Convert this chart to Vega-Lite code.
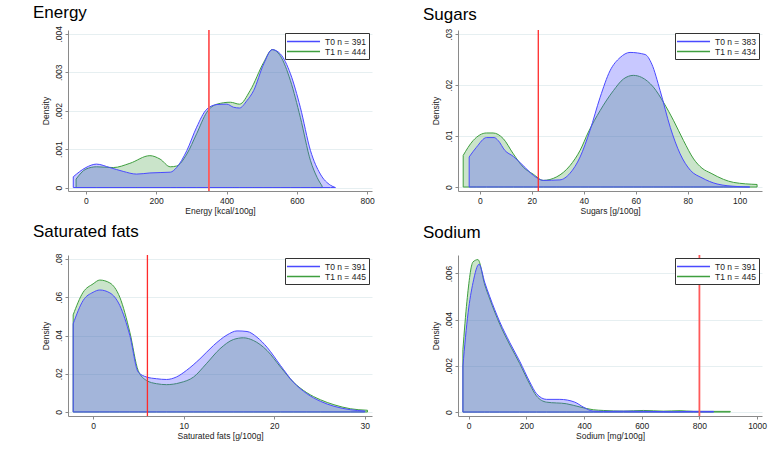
{
  "$schema": "https://vega.github.io/schema/vega-lite/v6.json",
  "background": "white",
  "padding": {"left": 33, "top": 3, "right": 5, "bottom": 5},
  "config": {
    "font": "Liberation Sans",
    "view": {"stroke": null},
    "axis": {"labelFont": "Liberation Sans", "labelFontSize": 8.5, "labelColor": "#222222", "titleFont": "Liberation Sans", "titleFontSize": 8.5, "titleFontWeight": "normal", "titleColor": "#222222", "domainColor": "#8a8a8a", "tickColor": "#8a8a8a", "tickSize": 3, "gridColor": "#e6eff1", "labelPadding": 2},
    "axisX": {"grid": false, "titlePadding": 2},
    "axisY": {"grid": true, "labelAngle": 270, "titlePadding": 4},
    "legend": {"orient": "top-right", "offset": 3, "strokeColor": "#333333", "fillColor": "white", "padding": 3, "title": null, "symbolType": "M-3.67,0H3.67", "symbolSize": 81, "symbolStrokeWidth": 1.5, "symbolOffset": 10, "labelFont": "Liberation Sans", "labelFontSize": 8.5, "labelColor": "#222222", "rowPadding": 0, "labelOffset": 16, "cornerRadius": 0},
    "title": {"anchor": "start", "frame": "group", "fontSize": 17, "fontWeight": "normal", "font": "Liberation Sans", "color": "#000000", "baseline": "alphabetic", "dx": -35}
  },
  "resolve": {"scale": {"stroke": "independent", "x": "independent", "y": "independent"}, "legend": {"stroke": "independent"}},
  "datasets": {
    "energy": [
      {"x": -36, "d": 0.00028, "g": "T0 n = 391"}, {"x": 0, "d": 0.00052, "g": "T0 n = 391"}, {"x": 30, "d": 0.00061, "g": "T0 n = 391"}, {"x": 68, "d": 0.00052, "g": "T0 n = 391"}, {"x": 106, "d": 0.00042, "g": "T0 n = 391"}, {"x": 144, "d": 0.00035, "g": "T0 n = 391"}, {"x": 182, "d": 0.00038, "g": "T0 n = 391"}, {"x": 240, "d": 0.0004, "g": "T0 n = 391"}, {"x": 258, "d": 0.00052, "g": "T0 n = 391"}, {"x": 287, "d": 0.00096, "g": "T0 n = 391"}, {"x": 315, "d": 0.00157, "g": "T0 n = 391"}, {"x": 344, "d": 0.00204, "g": "T0 n = 391"}, {"x": 373, "d": 0.00216, "g": "T0 n = 391"}, {"x": 401, "d": 0.00217, "g": "T0 n = 391"}, {"x": 420, "d": 0.00209, "g": "T0 n = 391"}, {"x": 437, "d": 0.00207, "g": "T0 n = 391"}, {"x": 458, "d": 0.00226, "g": "T0 n = 391"}, {"x": 477, "d": 0.00252, "g": "T0 n = 391"}, {"x": 506, "d": 0.00322, "g": "T0 n = 391"}, {"x": 530, "d": 0.00359, "g": "T0 n = 391"}, {"x": 553, "d": 0.00348, "g": "T0 n = 391"}, {"x": 582, "d": 0.00296, "g": "T0 n = 391"}, {"x": 610, "d": 0.00209, "g": "T0 n = 391"}, {"x": 639, "d": 0.00096, "g": "T0 n = 391"}, {"x": 667, "d": 0.00035, "g": "T0 n = 391"}, {"x": 696, "d": 0.00006, "g": "T0 n = 391"}, {"x": 710, "d": 0, "g": "T0 n = 391"},
      {"x": -28, "d": 0.00022, "g": "T1 n = 444"}, {"x": 0, "d": 0.00048, "g": "T1 n = 444"}, {"x": 30, "d": 0.00054, "g": "T1 n = 444"}, {"x": 78, "d": 0.00052, "g": "T1 n = 444"}, {"x": 125, "d": 0.00063, "g": "T1 n = 444"}, {"x": 182, "d": 0.00083, "g": "T1 n = 444"}, {"x": 211, "d": 0.00074, "g": "T1 n = 444"}, {"x": 240, "d": 0.00054, "g": "T1 n = 444"}, {"x": 258, "d": 0.00056, "g": "T1 n = 444"}, {"x": 287, "d": 0.00087, "g": "T1 n = 444"}, {"x": 315, "d": 0.0014, "g": "T1 n = 444"}, {"x": 344, "d": 0.00196, "g": "T1 n = 444"}, {"x": 373, "d": 0.00217, "g": "T1 n = 444"}, {"x": 411, "d": 0.00222, "g": "T1 n = 444"}, {"x": 437, "d": 0.00217, "g": "T1 n = 444"}, {"x": 467, "d": 0.00252, "g": "T1 n = 444"}, {"x": 506, "d": 0.00326, "g": "T1 n = 444"}, {"x": 530, "d": 0.00359, "g": "T1 n = 444"}, {"x": 553, "d": 0.00343, "g": "T1 n = 444"}, {"x": 582, "d": 0.00278, "g": "T1 n = 444"}, {"x": 610, "d": 0.00183, "g": "T1 n = 444"}, {"x": 639, "d": 0.0007, "g": "T1 n = 444"}, {"x": 658, "d": 0.00026, "g": "T1 n = 444"}, {"x": 672, "d": 0.00004, "g": "T1 n = 444"}
    ],
    "sugars": [
      {"x": -4.1, "d": 0.0059, "g": "T0 n = 383"}, {"x": -1.3, "d": 0.0078, "g": "T0 n = 383"}, {"x": 2.6, "d": 0.0097, "g": "T0 n = 383"}, {"x": 5.5, "d": 0.0097, "g": "T0 n = 383"}, {"x": 7.1, "d": 0.0091, "g": "T0 n = 383"}, {"x": 9.6, "d": 0.0072, "g": "T0 n = 383"}, {"x": 12.9, "d": 0.006, "g": "T0 n = 383"}, {"x": 16.7, "d": 0.0042, "g": "T0 n = 383"}, {"x": 20.6, "d": 0.0023, "g": "T0 n = 383"}, {"x": 24.4, "d": 0.0013, "g": "T0 n = 383"}, {"x": 30.8, "d": 0.0014, "g": "T0 n = 383"}, {"x": 34.7, "d": 0.0027, "g": "T0 n = 383"}, {"x": 38.6, "d": 0.0059, "g": "T0 n = 383"}, {"x": 42.4, "d": 0.0111, "g": "T0 n = 383"}, {"x": 46.3, "d": 0.0176, "g": "T0 n = 383"}, {"x": 50.1, "d": 0.0228, "g": "T0 n = 383"}, {"x": 54, "d": 0.0254, "g": "T0 n = 383"}, {"x": 57.8, "d": 0.0264, "g": "T0 n = 383"}, {"x": 63.6, "d": 0.026, "g": "T0 n = 383"}, {"x": 66.2, "d": 0.0241, "g": "T0 n = 383"}, {"x": 69.4, "d": 0.0189, "g": "T0 n = 383"}, {"x": 73.3, "d": 0.0117, "g": "T0 n = 383"}, {"x": 77.1, "d": 0.0065, "g": "T0 n = 383"}, {"x": 81, "d": 0.0033, "g": "T0 n = 383"}, {"x": 85.5, "d": 0.0018, "g": "T0 n = 383"}, {"x": 91.3, "d": 0.0006, "g": "T0 n = 383"}, {"x": 99, "d": 0.0001, "g": "T0 n = 383"}, {"x": 103.9, "d": 0, "g": "T0 n = 383"},
      {"x": -6.4, "d": 0.0062, "g": "T1 n = 434"}, {"x": -2.6, "d": 0.0091, "g": "T1 n = 434"}, {"x": 2.6, "d": 0.0106, "g": "T1 n = 434"}, {"x": 5.1, "d": 0.0106, "g": "T1 n = 434"}, {"x": 9, "d": 0.0095, "g": "T1 n = 434"}, {"x": 12.9, "d": 0.0065, "g": "T1 n = 434"}, {"x": 16.7, "d": 0.0039, "g": "T1 n = 434"}, {"x": 20.6, "d": 0.0025, "g": "T1 n = 434"}, {"x": 24.4, "d": 0.0013, "g": "T1 n = 434"}, {"x": 29.6, "d": 0.002, "g": "T1 n = 434"}, {"x": 34.7, "d": 0.0042, "g": "T1 n = 434"}, {"x": 38.6, "d": 0.0072, "g": "T1 n = 434"}, {"x": 41.8, "d": 0.0108, "g": "T1 n = 434"}, {"x": 46.3, "d": 0.015, "g": "T1 n = 434"}, {"x": 51.4, "d": 0.0189, "g": "T1 n = 434"}, {"x": 55.3, "d": 0.0212, "g": "T1 n = 434"}, {"x": 59.1, "d": 0.0219, "g": "T1 n = 434"}, {"x": 62.3, "d": 0.0215, "g": "T1 n = 434"}, {"x": 66.8, "d": 0.0196, "g": "T1 n = 434"}, {"x": 70.7, "d": 0.0166, "g": "T1 n = 434"}, {"x": 74.6, "d": 0.013, "g": "T1 n = 434"}, {"x": 78.4, "d": 0.0091, "g": "T1 n = 434"}, {"x": 82.3, "d": 0.0055, "g": "T1 n = 434"}, {"x": 85.5, "d": 0.0037, "g": "T1 n = 434"}, {"x": 89, "d": 0.0027, "g": "T1 n = 434"}, {"x": 93.8, "d": 0.0015, "g": "T1 n = 434"}, {"x": 97.7, "d": 0.0009, "g": "T1 n = 434"}, {"x": 106.7, "d": 0.0005, "g": "T1 n = 434"}
    ],
    "satfat": [
      {"x": -2.2, "d": 0.0461, "g": "T0 n = 391"}, {"x": -1.1, "d": 0.0583, "g": "T0 n = 391"}, {"x": 0, "d": 0.0626, "g": "T0 n = 391"}, {"x": 0.74, "d": 0.0638, "g": "T0 n = 391"}, {"x": 1.85, "d": 0.0623, "g": "T0 n = 391"}, {"x": 2.95, "d": 0.0557, "g": "T0 n = 391"}, {"x": 4.06, "d": 0.04, "g": "T0 n = 391"}, {"x": 4.98, "d": 0.0209, "g": "T0 n = 391"}, {"x": 5.9, "d": 0.0183, "g": "T0 n = 391"}, {"x": 7.0, "d": 0.0174, "g": "T0 n = 391"}, {"x": 8.1, "d": 0.017, "g": "T0 n = 391"}, {"x": 9.2, "d": 0.0183, "g": "T0 n = 391"}, {"x": 10.3, "d": 0.0217, "g": "T0 n = 391"}, {"x": 11.8, "d": 0.0278, "g": "T0 n = 391"}, {"x": 13.3, "d": 0.0348, "g": "T0 n = 391"}, {"x": 14.8, "d": 0.0403, "g": "T0 n = 391"}, {"x": 15.9, "d": 0.0424, "g": "T0 n = 391"}, {"x": 17.0, "d": 0.0421, "g": "T0 n = 391"}, {"x": 18.1, "d": 0.0391, "g": "T0 n = 391"}, {"x": 19.2, "d": 0.0339, "g": "T0 n = 391"}, {"x": 20.7, "d": 0.0243, "g": "T0 n = 391"}, {"x": 22.1, "d": 0.0157, "g": "T0 n = 391"}, {"x": 23.6, "d": 0.0096, "g": "T0 n = 391"}, {"x": 25.1, "d": 0.0056, "g": "T0 n = 391"}, {"x": 26.6, "d": 0.003, "g": "T0 n = 391"}, {"x": 28.4, "d": 0.0012, "g": "T0 n = 391"}, {"x": 30, "d": 0.0005, "g": "T0 n = 391"},
      {"x": -2.2, "d": 0.0508, "g": "T1 n = 445"}, {"x": -1.1, "d": 0.0626, "g": "T1 n = 445"}, {"x": 0, "d": 0.067, "g": "T1 n = 445"}, {"x": 0.74, "d": 0.069, "g": "T1 n = 445"}, {"x": 1.85, "d": 0.0675, "g": "T1 n = 445"}, {"x": 2.95, "d": 0.06, "g": "T1 n = 445"}, {"x": 4.06, "d": 0.0417, "g": "T1 n = 445"}, {"x": 4.98, "d": 0.0217, "g": "T1 n = 445"}, {"x": 5.9, "d": 0.0165, "g": "T1 n = 445"}, {"x": 7.0, "d": 0.0148, "g": "T1 n = 445"}, {"x": 8.1, "d": 0.0143, "g": "T1 n = 445"}, {"x": 9.6, "d": 0.0153, "g": "T1 n = 445"}, {"x": 11.1, "d": 0.0183, "g": "T1 n = 445"}, {"x": 12.5, "d": 0.0252, "g": "T1 n = 445"}, {"x": 14.0, "d": 0.033, "g": "T1 n = 445"}, {"x": 15.5, "d": 0.0379, "g": "T1 n = 445"}, {"x": 16.6, "d": 0.0388, "g": "T1 n = 445"}, {"x": 17.7, "d": 0.0374, "g": "T1 n = 445"}, {"x": 19.2, "d": 0.0322, "g": "T1 n = 445"}, {"x": 20.7, "d": 0.0235, "g": "T1 n = 445"}, {"x": 22.1, "d": 0.0157, "g": "T1 n = 445"}, {"x": 23.6, "d": 0.0101, "g": "T1 n = 445"}, {"x": 25.1, "d": 0.0064, "g": "T1 n = 445"}, {"x": 26.6, "d": 0.0038, "g": "T1 n = 445"}, {"x": 28.4, "d": 0.0017, "g": "T1 n = 445"}, {"x": 30.3, "d": 0.0009, "g": "T1 n = 445"}
    ],
    "sodium": [
      {"x": -20, "d": 0.002, "g": "T0 n = 391"}, {"x": -2, "d": 0.0043, "g": "T0 n = 391"}, {"x": 15, "d": 0.0056, "g": "T0 n = 391"}, {"x": 36, "d": 0.0064, "g": "T0 n = 391"}, {"x": 56, "d": 0.0056, "g": "T0 n = 391"}, {"x": 73, "d": 0.005, "g": "T0 n = 391"}, {"x": 108, "d": 0.0039, "g": "T0 n = 391"}, {"x": 143, "d": 0.003, "g": "T0 n = 391"}, {"x": 177, "d": 0.0022, "g": "T0 n = 391"}, {"x": 212, "d": 0.0013, "g": "T0 n = 391"}, {"x": 235, "d": 0.0008, "g": "T0 n = 391"}, {"x": 270, "d": 0.00055, "g": "T0 n = 391"}, {"x": 316, "d": 0.00055, "g": "T0 n = 391"}, {"x": 368, "d": 0.00043, "g": "T0 n = 391"}, {"x": 397, "d": 0.00022, "g": "T0 n = 391"}, {"x": 432, "d": 0.00004, "g": "T0 n = 391"}, {"x": 467, "d": 0.00003, "g": "T0 n = 391"}, {"x": 537, "d": 0.00004, "g": "T0 n = 391"}, {"x": 629, "d": 0.00003, "g": "T0 n = 391"}, {"x": 710, "d": 0.00001, "g": "T0 n = 391"}, {"x": 768, "d": 0.00003, "g": "T0 n = 391"}, {"x": 849, "d": 0.00003, "g": "T0 n = 391"},
      {"x": -20, "d": 0.0027, "g": "T1 n = 445"}, {"x": -6, "d": 0.0048, "g": "T1 n = 445"}, {"x": 15, "d": 0.0065, "g": "T1 n = 445"}, {"x": 32, "d": 0.0066, "g": "T1 n = 445"}, {"x": 56, "d": 0.0055, "g": "T1 n = 445"}, {"x": 73, "d": 0.0049, "g": "T1 n = 445"}, {"x": 108, "d": 0.0038, "g": "T1 n = 445"}, {"x": 143, "d": 0.0029, "g": "T1 n = 445"}, {"x": 177, "d": 0.0021, "g": "T1 n = 445"}, {"x": 212, "d": 0.0012, "g": "T1 n = 445"}, {"x": 235, "d": 0.0007, "g": "T1 n = 445"}, {"x": 270, "d": 0.00043, "g": "T1 n = 445"}, {"x": 339, "d": 0.00036, "g": "T1 n = 445"}, {"x": 386, "d": 0.00022, "g": "T1 n = 445"}, {"x": 432, "d": 0.0001, "g": "T1 n = 445"}, {"x": 467, "d": 0.00007, "g": "T1 n = 445"}, {"x": 537, "d": 0.00004, "g": "T1 n = 445"}, {"x": 606, "d": 0.00007, "g": "T1 n = 445"}, {"x": 675, "d": 0.00004, "g": "T1 n = 445"}, {"x": 733, "d": 0.00006, "g": "T1 n = 445"}, {"x": 780, "d": 0.00003, "g": "T1 n = 445"}, {"x": 907, "d": 0.00003, "g": "T1 n = 445"}
    ]
  },
  "columns": 2,
  "spacing": {"row": 64, "column": 86},
  "bounds": "flush",
  "concat": [
    {
      "width": 304, "height": 161,
      "title": {"text": "Energy", "offset": 4},
      "data": {"name": "energy"},
      "encoding": {
        "x": {"field": "x", "type": "quantitative", "scale": {"domain": [-51, 814], "nice": false, "zero": false}, "axis": {"values": [0, 200, 400, 600, 800], "title": "Energy [kcal/100g]", "format": "d"}},
        "y": {"field": "d", "type": "quantitative", "stack": null, "scale": {"domain": [-0.00009, 0.0041], "nice": false, "zero": false}, "axis": {"values": [0, 0.001, 0.002, 0.003, 0.004], "title": "Density", "labelExpr": "datum.value == 0 ? '0' : replace(format(datum.value, '.3f'), '0.', '.')"}},
        "stroke": {"field": "g", "type": "nominal", "scale": {"domain": ["T0 n = 391", "T1 n = 444"], "range": ["#4a4aff", "#3f9f3f"]}}
      },
      "layer": [
        {"transform": [{"filter": "datum.g == 'T1 n = 444'"}], "mark": {"type": "area", "fill": "#3f9f3f", "fillOpacity": 0.28, "strokeWidth": 1, "interpolate": "monotone"}},
        {"transform": [{"filter": "datum.g == 'T0 n = 391'"}], "mark": {"type": "area", "fill": "#4a4aff", "fillOpacity": 0.3, "strokeWidth": 1, "interpolate": "monotone"}},
        {"data": {"values": [{"cut": 350}]}, "mark": {"type": "rule", "color": "#ff5a5a", "strokeWidth": 1.8}, "encoding": {"x": {"field": "cut", "type": "quantitative"}, "y": null, "stroke": null}}
      ]
    },
    {
      "width": 304, "height": 161,
      "title": {"text": "Sugars", "offset": 4},
      "data": {"name": "sugars"},
      "encoding": {
        "x": {"field": "x", "type": "quantitative", "scale": {"domain": [-8.4, 108.6], "nice": false, "zero": false}, "axis": {"values": [0, 20, 40, 60, 80, 100], "title": "Sugars [g/100g]", "format": "d"}},
        "y": {"field": "d", "type": "quantitative", "stack": null, "scale": {"domain": [-0.00078, 0.0308], "nice": false, "zero": false}, "axis": {"values": [0, 0.01, 0.02, 0.03], "title": "Density", "labelExpr": "datum.value == 0 ? '0' : replace(format(datum.value, '.2f'), '0.', '.')"}},
        "stroke": {"field": "g", "type": "nominal", "scale": {"domain": ["T0 n = 383", "T1 n = 434"], "range": ["#4a4aff", "#3f9f3f"]}}
      },
      "layer": [
        {"transform": [{"filter": "datum.g == 'T1 n = 434'"}], "mark": {"type": "area", "fill": "#3f9f3f", "fillOpacity": 0.28, "strokeWidth": 1, "interpolate": "monotone"}},
        {"transform": [{"filter": "datum.g == 'T0 n = 383'"}], "mark": {"type": "area", "fill": "#4a4aff", "fillOpacity": 0.3, "strokeWidth": 1, "interpolate": "monotone"}},
        {"data": {"values": [{"cut": 22.5}]}, "mark": {"type": "rule", "color": "#ff2a2a", "strokeWidth": 1.3}, "encoding": {"x": {"field": "cut", "type": "quantitative"}, "y": null, "stroke": null}}
      ]
    },
    {
      "width": 304, "height": 161,
      "title": {"text": "Saturated fats", "offset": 12},
      "data": {"name": "satfat"},
      "encoding": {
        "x": {"field": "x", "type": "quantitative", "scale": {"domain": [-2.77, 30.8], "nice": false, "zero": false}, "axis": {"values": [0, 10, 20, 30], "title": "Saturated fats [g/100g]", "format": "d"}},
        "y": {"field": "d", "type": "quantitative", "stack": null, "scale": {"domain": [-0.0021, 0.0821], "nice": false, "zero": false}, "axis": {"values": [0, 0.02, 0.04, 0.06, 0.08], "title": "Density", "labelExpr": "datum.value == 0 ? '0' : replace(format(datum.value, '.2f'), '0.', '.')"}},
        "stroke": {"field": "g", "type": "nominal", "scale": {"domain": ["T0 n = 391", "T1 n = 445"], "range": ["#4a4aff", "#3f9f3f"]}}
      },
      "layer": [
        {"transform": [{"filter": "datum.g == 'T1 n = 445'"}], "mark": {"type": "area", "fill": "#3f9f3f", "fillOpacity": 0.28, "strokeWidth": 1, "interpolate": "monotone"}},
        {"transform": [{"filter": "datum.g == 'T0 n = 391'"}], "mark": {"type": "area", "fill": "#4a4aff", "fillOpacity": 0.3, "strokeWidth": 1, "interpolate": "monotone"}},
        {"data": {"values": [{"cut": 6}]}, "mark": {"type": "rule", "color": "#ff2a2a", "strokeWidth": 1.3}, "encoding": {"x": {"field": "cut", "type": "quantitative"}, "y": null, "stroke": null}}
      ]
    },
    {
      "width": 304, "height": 161,
      "title": {"text": "Sodium", "offset": 12},
      "data": {"name": "sodium"},
      "encoding": {
        "x": {"field": "x", "type": "quantitative", "scale": {"domain": [-37, 1017], "nice": false, "zero": false}, "axis": {"values": [0, 200, 400, 600, 800, 1000], "title": "Sodium [mg/100g]", "format": "d"}},
        "y": {"field": "d", "type": "quantitative", "stack": null, "scale": {"domain": [-0.00017, 0.0068], "nice": false, "zero": false}, "axis": {"values": [0, 0.002, 0.004, 0.006], "title": "Density", "labelExpr": "datum.value == 0 ? '0' : replace(format(datum.value, '.3f'), '0.', '.')"}},
        "stroke": {"field": "g", "type": "nominal", "scale": {"domain": ["T0 n = 391", "T1 n = 445"], "range": ["#4a4aff", "#3f9f3f"]}}
      },
      "layer": [
        {"transform": [{"filter": "datum.g == 'T1 n = 445'"}], "mark": {"type": "area", "fill": "#3f9f3f", "fillOpacity": 0.28, "strokeWidth": 1, "interpolate": "monotone"}},
        {"transform": [{"filter": "datum.g == 'T0 n = 391'"}], "mark": {"type": "area", "fill": "#4a4aff", "fillOpacity": 0.3, "strokeWidth": 1, "interpolate": "monotone"}},
        {"data": {"values": [{"cut": 800}]}, "mark": {"type": "rule", "color": "#ff5a5a", "strokeWidth": 1.8}, "encoding": {"x": {"field": "cut", "type": "quantitative"}, "y": null, "stroke": null}}
      ]
    }
  ]
}
